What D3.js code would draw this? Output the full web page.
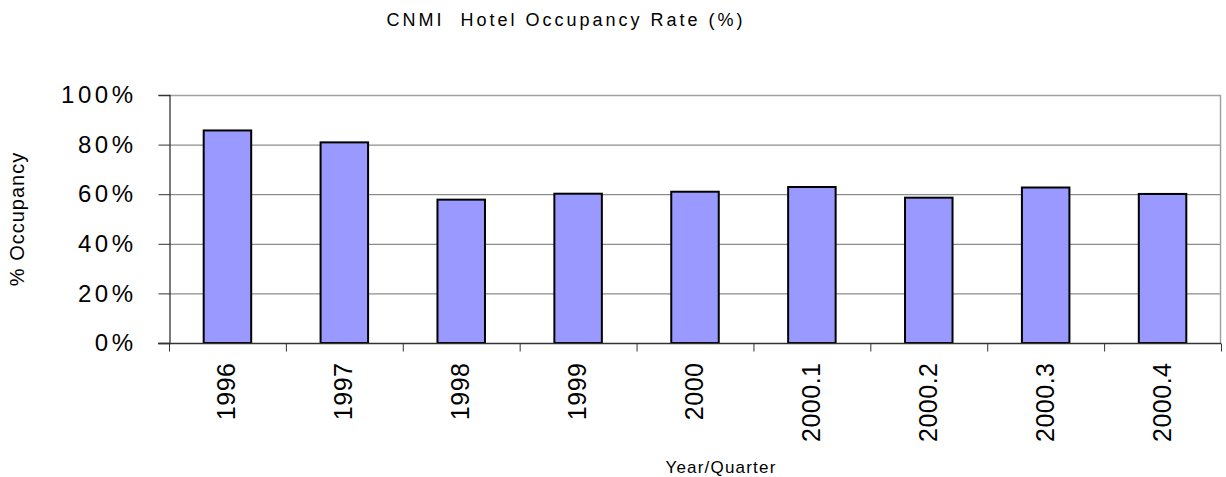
<!DOCTYPE html>
<meta charset="utf-8">
<style>
body { margin: 0; background: #fff; }
svg text { font-family: "Liberation Sans", Arial, sans-serif; fill: #000; }
</style>
<svg width="1226" height="477"></svg>
<script src="https://cdn.jsdelivr.net/npm/d3@7"></script>
<script>
// periods and occupancy rate (%)
var periods = ["1996", "1997", "1998", "1999", "2000", "2000.1", "2000.2", "2000.3", "2000.4"];
var occupancy = [85.7, 80.9, 57.8, 60.2, 61.0, 62.9, 58.6, 62.7, 60.1];
var yTicks = [0, 20, 40, 60, 80, 100];

var svg = d3.select("svg"),
  width = +svg.attr("width"),
  height = +svg.attr("height");

var margin = {left: 169, right: 5, top: 95, bottom: 134};
var x0 = margin.left, x1 = width - margin.right,
  y0 = height - margin.bottom, y1 = margin.top;

var x = d3.scaleBand().domain(periods).range([x0, x1]).paddingInner(0).paddingOuter(0);
var y = d3.scaleLinear().domain([0, 100]).range([y0, y1]);

// gridlines
svg.append("g")
  .selectAll("line")
  .data(yTicks.slice(1))
  .enter().append("line")
    .attr("x1", x0).attr("x2", x1)
    .attr("y1", function(d) { return y(d) + 0.5; })
    .attr("y2", function(d) { return y(d) + 0.5; })
    .attr("stroke", function(d) { return d == 100 ? "#a0a0a0" : "#707070"; })
    .attr("stroke-width", function(d) { return d == 100 ? 1.5 : 1; });

// right border
svg.append("line")
  .attr("x1", x1 - 0.5).attr("x2", x1 - 0.5)
  .attr("y1", y1).attr("y2", y0)
  .attr("stroke", "#a0a0a0").attr("stroke-width", 1.5);

// bars
var bw = 47.5;
svg.append("g")
  .selectAll("rect")
  .data(occupancy)
  .enter().append("rect")
    .attr("x", function(d, i) { return x(periods[i]) + x.bandwidth() / 2 - bw / 2; })
    .attr("y", function(d) { return y(d); })
    .attr("width", bw)
    .attr("height", function(d) { return y0 - y(d); })
    .attr("fill", "#9999ff")
    .attr("stroke", "#000")
    .attr("stroke-width", 2);

// y axis
var yAxis = svg.append("g")
  .attr("transform", "translate(" + (x0 + 0.5) + ",0)")
  .call(d3.axisLeft(y).tickValues(yTicks).tickSize(11).tickFormat(function(d) { return d + "%"; }));
yAxis.select(".domain").attr("stroke", "#333").attr("stroke-width", 1.3);
yAxis.selectAll(".tick line").attr("stroke", "#333");
yAxis.selectAll(".tick text")
  .attr("x", -33)
  .attr("font-size", "24px")
  .attr("letter-spacing", "3.5px")
  .attr("font-family", "Liberation Sans, Arial, sans-serif");

// x axis
var xAxis = svg.append("g")
  .attr("transform", "translate(0," + (y0 + 0.5) + ")");
xAxis.append("line")
  .attr("x1", x0 - 11).attr("x2", x1)
  .attr("stroke", "#333").attr("stroke-width", 1.3);
xAxis.selectAll("line.tk")
  .data(periods.concat(["end"]))
  .enter().append("line")
    .attr("class", "tk")
    .attr("x1", function(d, i) { return x0 + i * x.bandwidth() + 0.5; })
    .attr("x2", function(d, i) { return x0 + i * x.bandwidth() + 0.5; })
    .attr("y1", 0).attr("y2", 8)
    .attr("stroke", "#333");
xAxis.selectAll("text")
  .data(periods)
  .enter().append("text")
    .attr("transform", function(d) {
      return "translate(" + (x(d) + x.bandwidth() / 2 - 1) + ",19) rotate(-90)";
    })
    .attr("text-anchor", "end")
    .attr("dy", "0.36em")
    .attr("font-size", "25px")
    .attr("letter-spacing", "0.5px")
    .text(function(d) { return d; });

// titles
svg.append("text")
  .attr("x", 566).attr("y", 26)
  .attr("text-anchor", "middle")
  .attr("font-size", "18px")
  .attr("letter-spacing", "3px")
  .attr("xml:space", "preserve")
  .text("CNMI  Hotel Occupancy Rate (%)");

svg.append("text")
  .attr("x", 721).attr("y", 473)
  .attr("text-anchor", "middle")
  .attr("font-size", "17px")
  .attr("letter-spacing", "1.2px")
  .text("Year/Quarter");

svg.append("text")
  .attr("transform", "translate(24," + ((y0 + y1) / 2) + ") rotate(-90)")
  .attr("text-anchor", "middle")
  .attr("font-size", "20px")
  .attr("letter-spacing", "1px")
  .text("% Occupancy");
</script>
